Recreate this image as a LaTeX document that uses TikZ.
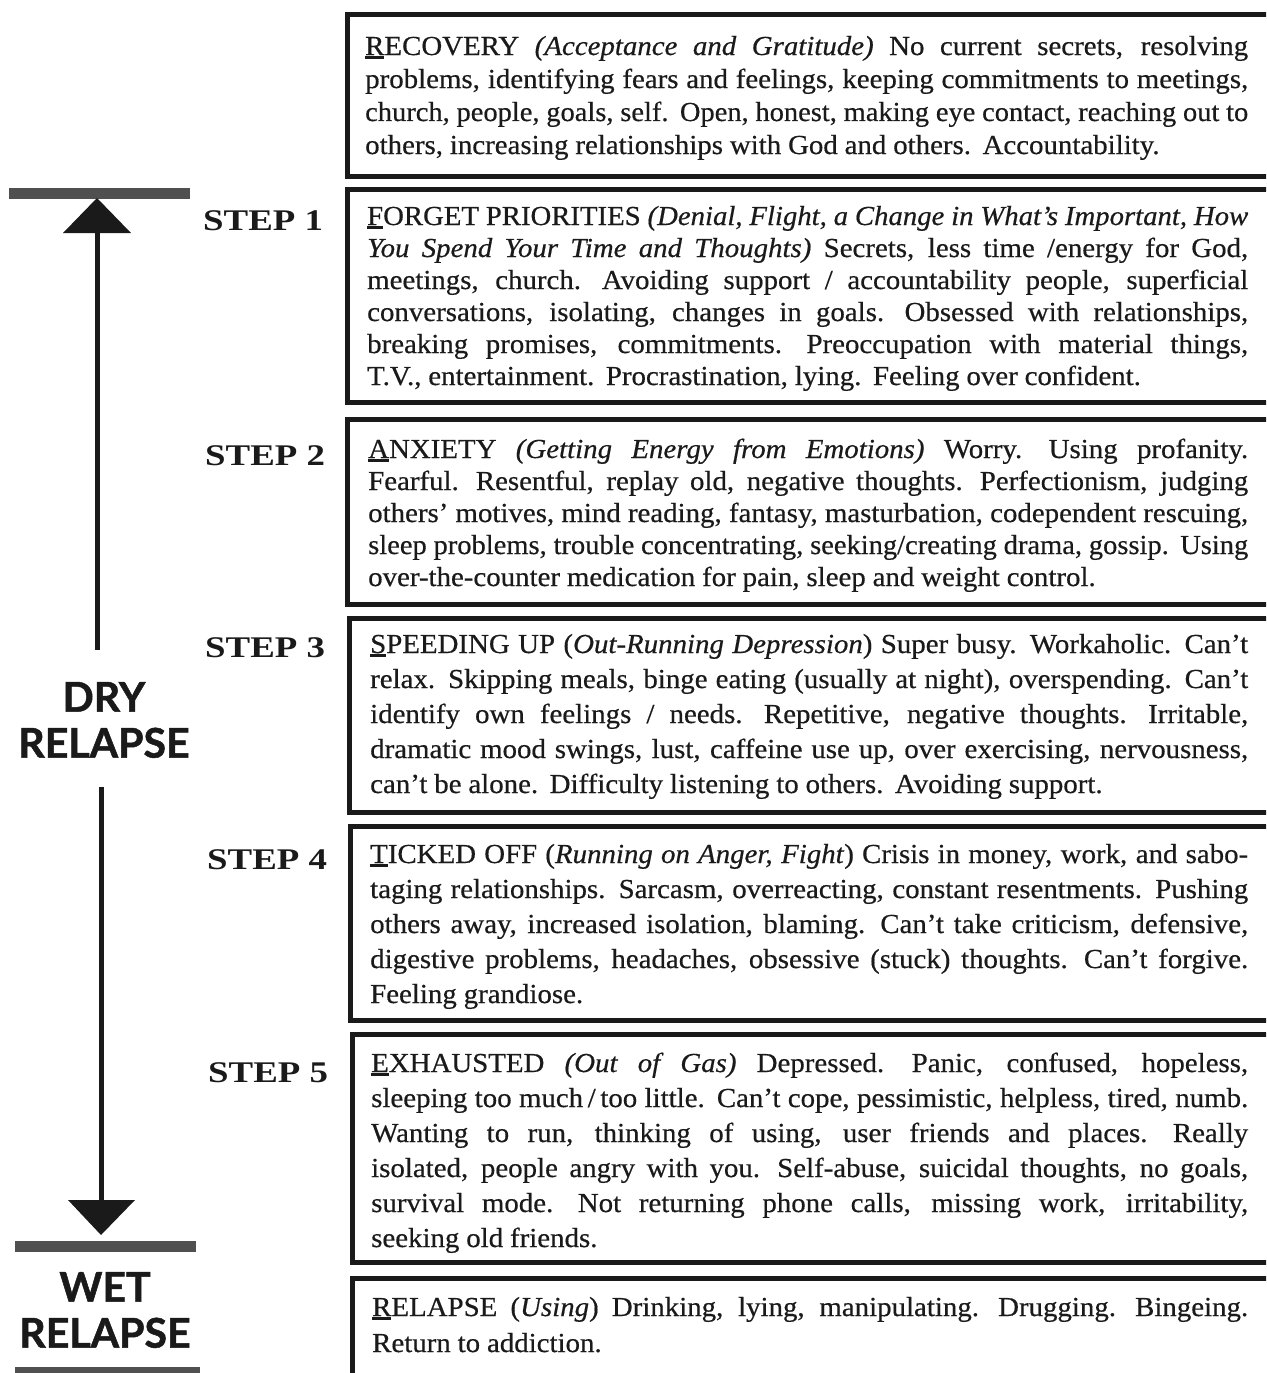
\documentclass[tikz,border=0pt]{standalone}
\usepackage{fontspec}
\usepackage{graphicx}
\setmainfont{Liberation Serif}[FakeStretch=1.05, UprightFeatures={FakeBold=0.5}, ItalicFeatures={FakeBold=0.5}]
\newfontfamily\labelsans{Lato}[BoldFeatures={FakeBold=1.2}]
\newcommand\FL[1]{\setbox2\hbox{#1}\rlap{\rule[-0.16em]{\wd2}{0.12em}}\box2}
\newcommand\spacing{\spaceskip=0.25em plus 1em minus 0.08em\xspaceskip=0.42em plus 1.2em minus 0.1em}
\newcommand\jl[1]{\setbox4\hbox{\spacing #1}\ifdim\wd4>\linewidth\hbox{\resizebox{\linewidth}{\height}{\box4}}\else\hbox to\linewidth{\spacing #1}\fi}
\newcommand\lastline[1]{\hbox{\spacing #1}}
\newcommand\panetext[2]{\vtop{\hsize=#1\linewidth=#1\relax #2}}
\definecolor{ink}{HTML}{1A1A1A}
\definecolor{bar}{HTML}{505050}
\tikzset{
  panel/.style={draw=ink, line width=5pt},
  boxtext/.style={anchor=base west, inner sep=0pt, text=ink},
  steplabel/.style={anchor=base west, inner sep=0pt, text=ink, font=\fontsize{30}{36}\selectfont\bfseries},
  biglabel/.style={inner sep=0pt, text=ink, align=center, font=\labelsans\fontsize{41}{50}\selectfont\bfseries},
  graybar/.style={draw=bar, line width=11pt},
  shaft/.style={draw=ink, line width=5pt},
  head/.style={fill=ink, draw=none}
}
\begin{document}
\begin{tikzpicture}[x=1pt,y=-1pt]
\useasboundingbox (0,0) rectangle (1266,1373);
\clip (0,0) rectangle (1266,1373);
\fill[white] (0,0) rectangle (1266,1373);

% panels
\draw[panel] (1290,14) -- (347,14) -- (347,176) -- (1290,176);
\draw[panel] (1290,189) -- (347,189) -- (347,402) -- (1290,402);
\draw[panel] (1290,419) -- (347,419) -- (347,604) -- (1290,604);
\draw[panel] (1290,618) -- (349,618) -- (349,812) -- (1290,812);
\draw[panel] (1290,826) -- (350,826) -- (350,1020) -- (1290,1020);
\draw[panel] (1290,1034) -- (352,1034) -- (352,1262) -- (1290,1262);
\draw[panel] (1290,1278) -- (352,1278) -- (352,1400);

% texts
\node[boxtext, font=\fontsize{27.5}{33}\selectfont] (recovery) at (365,55) {\panetext{883pt}{%
\jl{\FL{R}ECOVERY \textit{(Acceptance and Gratitude)} No current secrets, resolving}%
\jl{problems, identifying fears and feelings, keeping commitments to meetings,}%
\jl{church, people, goals, self. Open, honest, making eye contact, reaching out to}%
\lastline{others, increasing relationships with God and others. Accountability.}}};

\node[boxtext, font=\fontsize{27.5}{32}\selectfont] (forget) at (367,225) {\panetext{881pt}{%
\jl{\FL{F}ORGET PRIORITIES \textit{(Denial, Flight, a Change in What's Important, How}}%
\jl{\textit{You Spend Your Time and Thoughts)} Secrets, less time /energy for God,}%
\jl{meetings, church. Avoiding support / accountability people, superficial}%
\jl{conversations, isolating, changes in goals. Obsessed with relationships,}%
\jl{breaking promises, commitments. Preoccupation with material things,}%
\lastline{T.V., entertainment. Procrastination, lying. Feeling over confident.}}};

\node[boxtext, font=\fontsize{27.5}{32}\selectfont] (anxiety) at (368,458) {\panetext{880pt}{%
\jl{\FL{A}NXIETY \textit{(Getting Energy from Emotions)} Worry. Using profanity.}%
\jl{Fearful. Resentful, replay old, negative thoughts. Perfectionism, judging}%
\jl{others' motives, mind reading, fantasy, masturbation, codependent rescuing,}%
\jl{sleep problems, trouble concentrating, seeking/creating drama, gossip. Using}%
\lastline{over-the-counter medication for pain, sleep and weight control.}}};

\node[boxtext, font=\fontsize{27.5}{35}\selectfont] (speeding) at (370,653) {\panetext{878pt}{%
\jl{\FL{S}PEEDING UP (\textit{Out-Running Depression}) Super busy. Workaholic. Can't}%
\jl{relax. Skipping meals, binge eating (usually at night), overspending. Can't}%
\jl{identify own feelings / needs. Repetitive, negative thoughts. Irritable,}%
\jl{dramatic mood swings, lust, caffeine use up, over exercising, nervousness,}%
\lastline{can't be alone. Difficulty listening to others. Avoiding support.}}};

\node[boxtext, font=\fontsize{27.5}{35}\selectfont] (ticked) at (370,863) {\panetext{878pt}{%
\jl{\FL{T}ICKED OFF (\textit{Running on Anger, Fight}) Crisis in money, work, and sabo-}%
\jl{taging relationships. Sarcasm, overreacting, constant resentments. Pushing}%
\jl{others away, increased isolation, blaming. Can't take criticism, defensive,}%
\jl{digestive problems, headaches, obsessive (stuck) thoughts. Can't forgive.}%
\lastline{Feeling grandiose.}}};

\node[boxtext, font=\fontsize{27.5}{35}\selectfont] (exhausted) at (371,1072) {\panetext{877pt}{%
\jl{\FL{E}XHAUSTED \textit{(Out of Gas)} Depressed. Panic, confused, hopeless,}%
\jl{sleeping too much\,/\,too little. Can't cope, pessimistic, helpless, tired, numb.}%
\jl{Wanting to run, thinking of using, user friends and places. Really}%
\jl{isolated, people angry with you. Self-abuse, suicidal thoughts, no goals,}%
\jl{survival mode. Not returning phone calls, missing work, irritability,}%
\lastline{seeking old friends.}}};

\node[boxtext, font=\fontsize{27.5}{36}\selectfont] (relapsebox) at (372,1316) {\panetext{876pt}{%
\jl{\FL{R}ELAPSE (\textit{Using}) Drinking, lying, manipulating. Drugging. Bingeing.}%
\lastline{Return to addiction.}}};

% step labels
\node[steplabel] (s1) at (203,230) {\scalebox{1.17}[1]{STEP 1}};
\node[steplabel] (s2) at (205,465) {\scalebox{1.17}[1]{STEP 2}};
\node[steplabel] (s3) at (205,657) {\scalebox{1.17}[1]{STEP 3}};
\node[steplabel] (s4) at (207,869) {\scalebox{1.17}[1]{STEP 4}};
\node[steplabel] (s5) at (208,1082) {\scalebox{1.17}[1]{STEP 5}};

% left labels
\node[biglabel] (dry) at (104,720) {DRY\\[-4pt]RELAPSE};
\node[biglabel] (wet) at (105,1310) {WET\\[-4pt]RELAPSE};

% bars
\coordinate (bartopL) at (9,193);
\coordinate (bartopR) at (190,193);
\coordinate (barmidL) at (15,1246);
\coordinate (barmidR) at (196,1246);
\coordinate (barbotL) at (15,1372);
\coordinate (barbotR) at (200,1372);
\draw[graybar] (bartopL) -- (bartopR);
\draw[graybar] (barmidL) -- (barmidR);
\draw[graybar] (barbotL) -- (barbotR);

% arrows
\coordinate (uptip) at (97,198);
\coordinate (upbase) at (97,233);
\coordinate (upend) at (97,650);
\draw[shaft] (upend) -- (upbase);
\fill[head] (uptip) -- (63,233) -- (131,233) -- cycle;
\coordinate (dnstart) at (101,787);
\coordinate (dnbase) at (101,1200);
\coordinate (dntip) at (101,1235);
\draw[shaft] (dnstart) -- (dnbase);
\fill[head] (dntip) -- (68,1200) -- (135,1200) -- cycle;
\end{tikzpicture}
\end{document}
